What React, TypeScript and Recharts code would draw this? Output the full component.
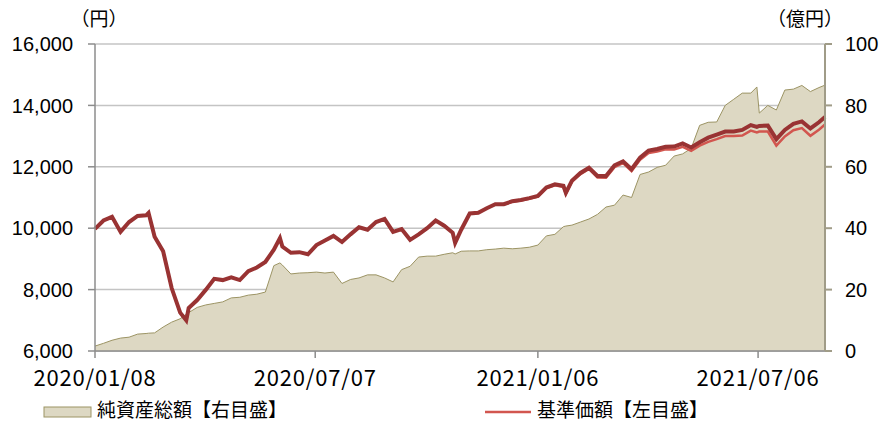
import {
  ComposedChart,
  Area,
  Line,
  XAxis,
  YAxis,
  CartesianGrid,
} from "recharts";

// 日付（週次＋主な山・谷）
const dates = [
  "2020-01-08", "2020-01-15", "2020-01-22", "2020-01-29", "2020-02-05", "2020-02-12", "2020-02-19", "2020-02-21",
  "2020-02-26", "2020-03-04", "2020-03-11", "2020-03-18", "2020-03-23", "2020-03-25", "2020-04-01", "2020-04-08",
  "2020-04-15", "2020-04-22", "2020-04-29", "2020-05-06", "2020-05-13", "2020-05-20", "2020-05-27", "2020-06-03",
  "2020-06-08", "2020-06-10", "2020-06-17", "2020-06-24", "2020-07-01", "2020-07-08", "2020-07-15", "2020-07-22",
  "2020-07-29", "2020-08-05", "2020-08-12", "2020-08-19", "2020-08-26", "2020-09-02", "2020-09-09", "2020-09-16",
  "2020-09-23", "2020-09-30", "2020-10-07", "2020-10-14", "2020-10-21", "2020-10-28", "2020-10-30", "2020-11-04",
  "2020-11-11", "2020-11-18", "2020-11-25", "2020-12-02", "2020-12-09", "2020-12-16", "2020-12-23", "2020-12-30",
  "2021-01-06", "2021-01-13", "2021-01-20", "2021-01-27", "2021-01-29", "2021-02-03", "2021-02-10", "2021-02-17",
  "2021-02-24", "2021-03-03", "2021-03-10", "2021-03-17", "2021-03-24", "2021-03-31", "2021-04-07", "2021-04-14",
  "2021-04-21", "2021-04-28", "2021-05-05", "2021-05-12", "2021-05-19", "2021-05-26", "2021-06-02", "2021-06-09",
  "2021-06-16", "2021-06-23", "2021-06-30", "2021-07-05", "2021-07-07", "2021-07-14", "2021-07-21", "2021-07-28",
  "2021-08-04", "2021-08-11", "2021-08-18", "2021-08-25", "2021-08-30",
];

// 基準価額（分配金再投資）（円）
const navReinvested = [
  9980, 10250, 10370, 9880, 10200, 10400, 10420, 10500,
  9720, 9250, 8050, 7250, 7000, 7400, 7660, 7990,
  8350, 8310, 8400, 8310, 8600, 8720, 8900, 9300,
  9680, 9400, 9200, 9220, 9150, 9450, 9600, 9750,
  9550, 9800, 10030, 9950, 10200, 10300, 9880, 9970,
  9620, 9800, 10000, 10250, 10080, 9850, 9520, 9950,
  10480, 10500, 10650, 10780, 10780, 10880, 10920, 10980,
  11050, 11330, 11430, 11380, 11150, 11550, 11800, 11970,
  11700, 11700, 12050, 12180, 11920, 12300, 12530, 12580,
  12650, 12660, 12760, 12630, 12800, 12950, 13050, 13150,
  13150, 13200, 13360, 13300, 13330, 13340, 12900, 13200,
  13400, 13480, 13250, 13450, 13620,
];

// 基準価額（円）
const nav = [
  9980, 10250, 10370, 9880, 10200, 10400, 10420, 10500,
  9720, 9250, 8050, 7250, 7000, 7400, 7660, 7990,
  8350, 8310, 8400, 8310, 8600, 8720, 8900, 9300,
  9680, 9400, 9200, 9220, 9150, 9450, 9600, 9750,
  9550, 9800, 10030, 9950, 10200, 10300, 9880, 9970,
  9620, 9800, 10000, 10250, 10080, 9850, 9520, 9950,
  10480, 10500, 10650, 10780, 10770, 10860, 10900, 10960,
  11030, 11300, 11400, 11340, 11110, 11510, 11760, 11930,
  11650, 11640, 11990, 12120, 11860, 12230, 12450, 12500,
  12570, 12560, 12650, 12520, 12690, 12810, 12900, 13000,
  13000, 13020, 13180, 13120, 13150, 13150, 12690, 12990,
  13190, 13260, 13010, 13210, 13380,
];

// 純資産総額（億円）
const netAssets = [
  1.6, 2.5, 3.5, 4.2, 4.5, 5.5, 5.7, 5.8,
  5.9, 7.8, 9.4, 10.5, 12, 12.5, 14.2, 15,
  15.5, 16, 17.3, 17.5, 18.2, 18.5, 19.2, 27.8,
  28.7, 28, 25.1, 25.4, 25.5, 25.7, 25.4, 25.7,
  22.0, 23.3, 23.8, 24.8, 24.8, 23.8, 22.5, 26.5,
  27.6, 30.6, 30.9, 30.9, 31.5, 32, 31.6, 32.5,
  32.6, 32.6, 33, 33.2, 33.5, 33.3, 33.5, 33.8,
  34.5, 37.5, 38, 40.5, 40.7, 41, 42, 43,
  44.5, 46.9, 47.5, 50.8, 50, 57.5, 58.3, 59.8,
  60.5, 63.5, 64.2, 66, 73.5, 74.5, 74.6, 80,
  82, 84, 84, 86, 77.5, 80, 78.5, 85,
  85.3, 86.5, 84.5, 85.8, 86.6,
];

const xTickDates = ["2020-01-08", "2020-07-07", "2021-01-06", "2021-07-06"];
const leftTicks = [6000, 8000, 10000, 12000, 14000, 16000];
const rightTicks = [0, 20, 40, 60, 80, 100];

const toTime = (d: string) => Date.parse(d + "T00:00:00Z");

const data = dates.map((d, i) => ({
  t: toTime(d),
  reinvested: navReinvested[i],
  nav: nav[i],
  assets: netAssets[i],
}));

const fmtDate = (t: number) => {
  const d = new Date(t);
  const mm = String(d.getUTCMonth() + 1).padStart(2, "0");
  const dd = String(d.getUTCDate()).padStart(2, "0");
  return `${d.getUTCFullYear()}/${mm}/${dd}`;
};

const DateTick = (props: any) => {
  const { x, y, payload } = props;
  return (
    <text
      x={x}
      y={y}
      dy={26}
      textAnchor="middle"
      fill="#000"
      fontSize={22}
      letterSpacing={0.8}
      fontFamily="'Noto Sans CJK JP', sans-serif"
    >
      {fmtDate(payload.value)}
    </text>
  );
};

const axisFont = { fontSize: 20, fill: "#000", fontFamily: "'Liberation Sans', Arial, sans-serif" };

export default function App() {
  return (
    <div style={{ position: "absolute", left: 0, top: 0, width: 881, height: 423, background: "#fff", overflow: "hidden" }}>
      <ComposedChart
        width={881}
        height={423}
        data={data}
        margin={{ top: 44, right: 0, bottom: 0, left: 0 }}
      >
        <CartesianGrid yAxisId="left" horizontal vertical={false} stroke="#c4c4c4" strokeWidth={1.5} />
        <XAxis
          dataKey="t"
          type="number"
          domain={[toTime("2020-01-08"), toTime("2021-08-30")]}
          ticks={xTickDates.map(toTime)}
          tick={<DateTick />}
          tickSize={7}
          height={72}
          stroke="#8c8c8c"
          strokeWidth={1.5}
          interval={0}
        />
        <YAxis
          yAxisId="left"
          domain={[6000, 16000]}
          ticks={leftTicks}
          tickFormatter={(v: number) => v.toLocaleString("en-US")}
          width={95}
          tickSize={7}
          tickMargin={15}
          tick={axisFont}
          stroke="#8c8c8c"
          strokeWidth={1.5}
          interval={0}
        />
        <YAxis
          yAxisId="right"
          orientation="right"
          domain={[0, 100]}
          ticks={rightTicks}
          width={56}
          tickSize={7}
          tickMargin={13}
          tick={{ ...axisFont, textAnchor: "start" }}
          stroke="#a09c88"
          strokeWidth={2}
          interval={0}
        />
        <Area
          yAxisId="right"
          dataKey="assets"
          type="linear"
          stroke="#9c9464"
          strokeWidth={1}
          fill="#ddd8c3"
          fillOpacity={1}
          isAnimationActive={false}
        />
        <Line
          yAxisId="left"
          dataKey="nav"
          type="linear"
          stroke="#d2564f"
          strokeWidth={2.5}
          dot={false}
          isAnimationActive={false}
        />
        <Line
          yAxisId="left"
          dataKey="reinvested"
          type="linear"
          stroke="#993333"
          strokeWidth={4}
          dot={false}
          isAnimationActive={false}
        />
      </ComposedChart>
      <svg
        width={881}
        height={423}
        style={{ position: "absolute", left: 0, top: 0, pointerEvents: "none" }}
        fontFamily="'Noto Sans CJK JP', sans-serif"
      >
        <text x={99} y={26} fontSize={19} textAnchor="middle" fill="#000">（円）</text>
        <text x={805} y={26} fontSize={19} textAnchor="middle" fill="#000">（億円）</text>
        <rect x={44} y={407} width={47} height={10} fill="#ddd8c3" stroke="#9c9464" strokeWidth={1} />
        <text x={97} y={417} fontSize={19} fill="#000">純資産総額【右目盛】</text>
        <line x1={485} y1={412} x2={531} y2={412} stroke="#d2564f" strokeWidth={2.5} />
        <text x={537} y={417} fontSize={19} fill="#000">基準価額【左目盛】</text>
      </svg>
    </div>
  );
}
